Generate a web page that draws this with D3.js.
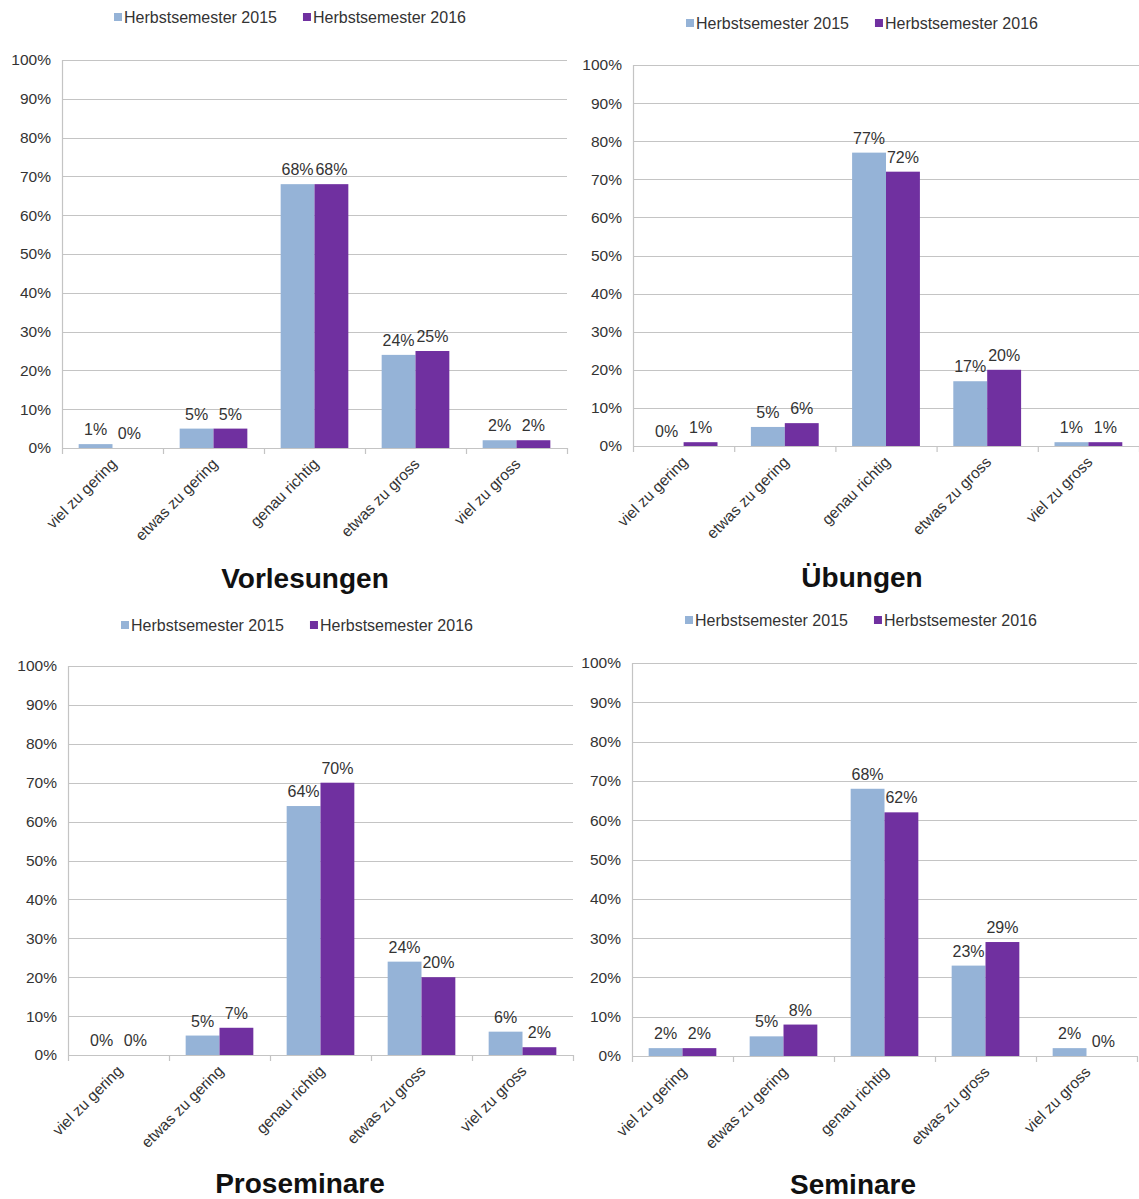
<!DOCTYPE html>
<html>
<head>
<meta charset="utf-8">
<script src="https://cdn.jsdelivr.net/npm/d3@7"></script>
<style>
  html, body { margin: 0; padding: 0; background: #fff; }
  svg { display: block; font-family: "Liberation Sans", Arial, sans-serif; }
</style>
</head>
<body>
<svg id="chart" width="1139" height="1199"></svg>
<script>
// Answer categories shared by all four surveys
const categories = ["viel zu gering", "etwas zu gering", "genau richtig", "etwas zu gross", "viel zu gross"];
const seriesNames = ["Herbstsemester 2015", "Herbstsemester 2016"];
const seriesColors = ["#95b3d7", "#7030a0"];
const yTicks = [0, 10, 20, 30, 40, 50, 60, 70, 80, 90, 100];

// Percentages per course type
const vorlesungen2015 = [1, 5, 68, 24, 2];
const vorlesungen2016 = [0, 5, 68, 25, 2];
const uebungen2015 = [0, 5, 77, 17, 1];
const uebungen2016 = [1, 6, 72, 20, 1];
const proseminare2015 = [0, 5, 64, 24, 6];
const proseminare2016 = [0, 7, 70, 20, 2];
const seminare2015 = [2, 5, 68, 23, 2];
const seminare2016 = [2, 8, 62, 29, 0];

const titles = ["Vorlesungen", "Übungen", "Proseminare", "Seminare"];

// Panel placement on the page
const panels = [
  { title: titles[0], s1: vorlesungen2015, s2: vorlesungen2016, x0: 62, x1: 567, yTop: 60, yBot: 448, legendX: 114, legendY: 17, titleX: 305, titleY: 588 },
  { title: titles[1], s1: uebungen2015, s2: uebungen2016, x0: 633, x1: 1139, yTop: 65, yBot: 446, legendX: 686, legendY: 23, titleX: 862, titleY: 587 },
  { title: titles[2], s1: proseminare2015, s2: proseminare2016, x0: 68, x1: 573, yTop: 666, yBot: 1055, legendX: 121, legendY: 625, titleX: 300, titleY: 1193 },
  { title: titles[3], s1: seminare2015, s2: seminare2016, x0: 632, x1: 1137, yTop: 663, yBot: 1056, legendX: 685, legendY: 620, titleX: 853, titleY: 1194 }
];

const svg = d3.select("#chart");
const textColor = "#333";
const gridColor = "#c4c4c4";
const fs = 15.5;

panels.forEach(p => {
  const g = svg.append("g");

  const x = d3.scaleBand().domain(categories).range([p.x0, p.x1]).paddingInner(0.33).paddingOuter(0.165);
  const xs = d3.scaleBand().domain([0, 1]).range([0, x.bandwidth()]);
  const y = d3.scaleLinear().domain([0, 100]).range([p.yBot, p.yTop]);

  // horizontal gridlines
  g.selectAll("line.grid").data(yTicks).join("line")
    .attr("x1", p.x0).attr("x2", p.x1)
    .attr("y1", d => Math.round(y(d)) + 0.5).attr("y2", d => Math.round(y(d)) + 0.5)
    .attr("stroke", gridColor).attr("stroke-width", 1.2);

  // value axis line
  g.append("line")
    .attr("x1", p.x0 + 0.5).attr("x2", p.x0 + 0.5)
    .attr("y1", p.yTop).attr("y2", p.yBot)
    .attr("stroke", gridColor).attr("stroke-width", 1.2);

  // y tick labels
  g.selectAll("text.ytick").data(yTicks).join("text")
    .attr("x", p.x0 - 11).attr("y", d => y(d))
    .attr("dy", "0.35em").attr("text-anchor", "end")
    .attr("font-size", fs).attr("fill", textColor)
    .text(d => d + "%");

  // category tick marks at band boundaries
  const step = x.step();
  const bounds = d3.range(categories.length + 1).map(i => p.x0 + i * step);
  g.selectAll("line.xtick").data(bounds).join("line")
    .attr("x1", d => d + 0.5).attr("x2", d => d + 0.5)
    .attr("y1", p.yBot).attr("y2", p.yBot + 6)
    .attr("stroke", gridColor).attr("stroke-width", 1.2);

  // bars
  const rows = categories.map((c, i) => ({ c, vals: [p.s1[i], p.s2[i]] }));
  const groups = g.selectAll("g.cat").data(rows).join("g")
    .attr("transform", d => `translate(${x(d.c)},0)`);

  groups.selectAll("rect").data(d => d.vals.map((v, k) => ({ v, k }))).join("rect")
    .attr("x", d => xs(d.k)).attr("width", xs.bandwidth())
    .attr("y", d => y(d.v)).attr("height", d => y(0) - y(d.v))
    .attr("fill", d => seriesColors[d.k]);

  // value labels above bars
  groups.selectAll("text.val").data(d => d.vals.map((v, k) => ({ v, k }))).join("text")
    .attr("x", d => xs(d.k) + xs.bandwidth() / 2)
    .attr("y", d => y(d.v) - 9)
    .attr("text-anchor", "middle")
    .attr("font-size", 16).attr("fill", textColor)
    .text(d => d.v + "%");

  // rotated category labels
  g.selectAll("text.cat").data(categories).join("text")
    .attr("transform", d => `translate(${x(d) + x.bandwidth() / 2 + 5},${p.yBot + 17}) rotate(-45)`)
    .attr("text-anchor", "end")
    .attr("font-size", fs).attr("fill", textColor)
    .text(d => d);

  // legend
  const leg = g.append("g").attr("transform", `translate(${p.legendX},${p.legendY})`);
  let lx = 0;
  seriesNames.forEach((n, k) => {
    leg.append("rect").attr("x", lx).attr("y", -4).attr("width", 8).attr("height", 8).attr("fill", seriesColors[k]);
    const t = leg.append("text").attr("x", lx + 10).attr("y", 0).attr("dy", "0.35em")
      .attr("font-size", 16).attr("fill", textColor).text(n);
    lx += 10 + t.node().getComputedTextLength() + 26;
  });

  // panel title
  g.append("text")
    .attr("x", p.titleX).attr("y", p.titleY)
    .attr("text-anchor", "middle")
    .attr("font-size", 28).attr("font-weight", "bold").attr("fill", "#111")
    .text(p.title);
});
</script>
</body>
</html>
